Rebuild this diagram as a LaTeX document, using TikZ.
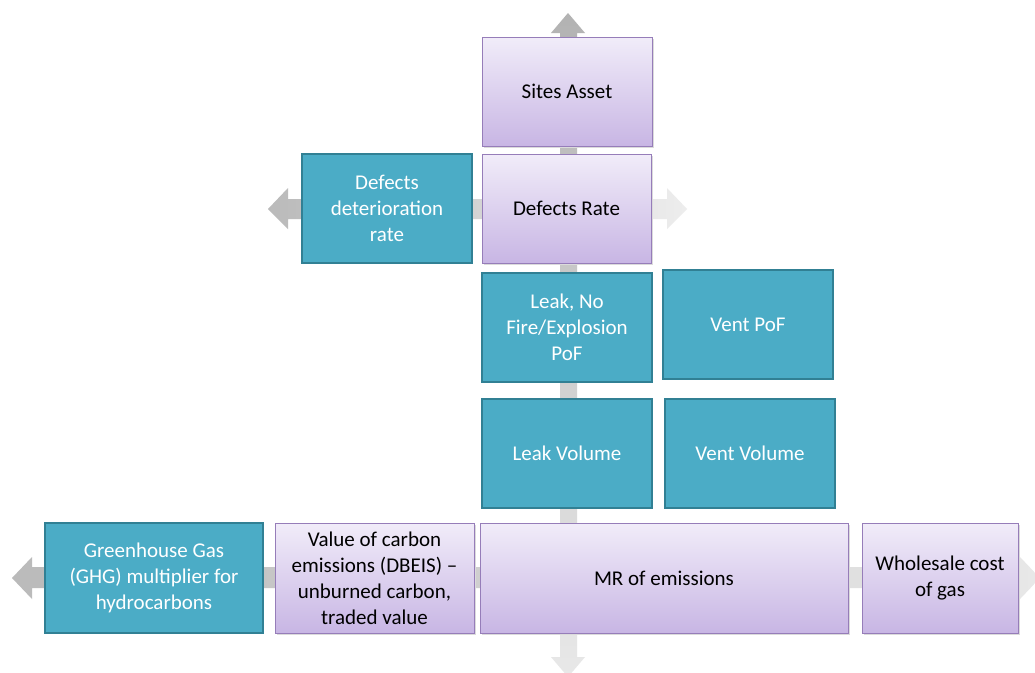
\documentclass[tikz,border=0pt]{standalone}
\usepackage{fontspec}
\setmainfont{Carlito}
\begin{document}
\begin{tikzpicture}[x=1pt,y=-1pt,
  tealbox/.style={draw={rgb,255:red,49;green,128;blue,148}, line width=1.6pt, fill={rgb,255:red,75;green,172;blue,198},
    text=white, align=center, inner sep=2pt,
    font=\fontsize{21}{26}\selectfont},
  lilacbox/.style={draw={rgb,255:red,150;green,125;blue,185}, line width=0.8pt,
    top color={rgb,255:red,241;green,236;blue,249}, bottom color={rgb,255:red,200;green,182;blue,228},
    text=black, align=center, inner sep=2pt,
    font=\fontsize{21}{26}\selectfont}
]
\clip (0,0) rectangle (1035,672);
\fill[white] (0,0) rectangle (1035,672);

% background cross of wide grey arrows
\shade[top color=black!30, bottom color=black!9]
  (560,33) -- (551,33) -- (568,13) -- (585,33) -- (577,33) -- (577,657)
  -- (585,657) -- (568,677) -- (551,657) -- (560,657) -- cycle;
\shade[left color=black!27, right color=black!7]
  (288,199) -- (288,188) -- (268,209) -- (288,229) -- (288,219) -- (667,219)
  -- (667,229) -- (687,209) -- (667,188) -- (667,199) -- cycle;
\shade[left color=black!27, right color=black!9]
  (32,567) -- (32,557) -- (12,578) -- (32,599) -- (32,588) -- (1020,588)
  -- (1020,599) -- (1040,578) -- (1020,557) -- (1020,567) -- cycle;

% soft shadows under the lilac boxes
\foreach \a/\b/\c/\d in {482/37/652/146, 482/154/651/263, 275/523/474/633, 480/523/848/633, 862/523/1018/633}
  \fill[black!14] (\a+2,\b+2) rectangle (\c+2,\d+2);

% boxes
\node[lilacbox, minimum width=170pt, minimum height=109pt] (sites) at (567,91.5) {Sites Asset};
\node[lilacbox, minimum width=169pt, minimum height=109pt] (defrate) at (566.5,208.5) {Defects Rate};
\node[tealbox, minimum width=170pt, minimum height=109pt] (defdet) at (387,208.5) {Defects\\deterioration\\rate};
\node[tealbox, minimum width=170pt, minimum height=109pt] (leakpof) at (567,327.5) {Leak, No\\Fire/Explosion\\PoF};
\node[tealbox, minimum width=170pt, minimum height=109pt] (ventpof) at (748,324.5) {Vent PoF};
\node[tealbox, minimum width=170pt, minimum height=109pt] (leakvol) at (567,453.5) {Leak Volume};
\node[tealbox, minimum width=170pt, minimum height=109pt] (ventvol) at (750,453.5) {Vent Volume};
\node[tealbox, minimum width=218pt, minimum height=110pt] (ghg) at (154,578) {Greenhouse Gas\\(GHG) multiplier for\\hydrocarbons};
\node[lilacbox, minimum width=199pt, minimum height=110pt] (carbon) at (374.5,578) {Value of carbon\\emissions (DBEIS) –\\unburned carbon,\\traded value};
\node[lilacbox, minimum width=368pt, minimum height=110pt] (mr) at (664,578) {MR of emissions};
\node[lilacbox, minimum width=156pt, minimum height=110pt] (cost) at (940,578) {Wholesale cost\\of gas};
\end{tikzpicture}
\end{document}
